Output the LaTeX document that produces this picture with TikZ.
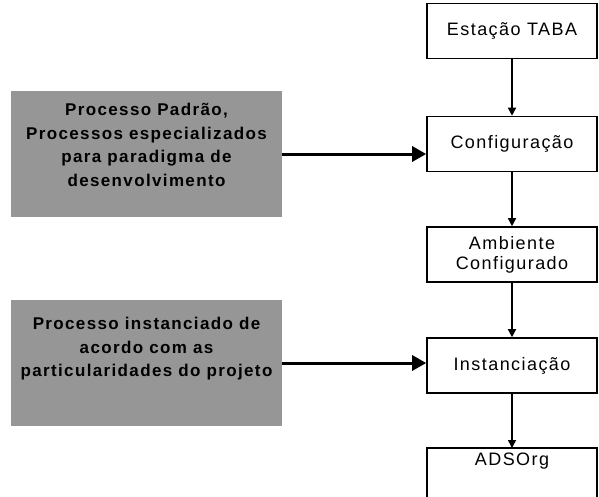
\documentclass[tikz,border=0pt]{standalone}
\usepackage{fontspec}
\setmainfont{Liberation Sans}
\newfontfamily\boxfont[LetterSpace=8]{Liberation Sans}
\newfontfamily\grayfont[LetterSpace=8]{Liberation Sans Bold}
\usetikzlibrary{arrows.meta}
\definecolor{noisegray}{RGB}{150,150,150}
\tikzset{
  flowbox/.style={draw=black, line width=1.6pt, fill=white, minimum width=170pt, minimum height=55pt, inner sep=0pt, font=\boxfont\fontsize{18}{20}\selectfont, align=center},
  graybox/.style={fill=noisegray, draw=none, minimum width=271pt, minimum height=126pt, inner sep=0pt},
  graytext/.style={font=\grayfont\fontsize{17}{23.5}\selectfont, align=center, text=black, inner sep=0pt},
  vflow/.style={line width=1.4pt, -{Triangle[width=8pt,length=8pt]}},
  hflow/.style={line width=3pt, -{Triangle[width=15pt,length=14pt]}}
}
\begin{document}
\begin{tikzpicture}[x=1pt,y=-1pt]
\useasboundingbox (0,0) rectangle (599,496);
\begin{scope}
\clip (0,0) rectangle (599,496);
% right column
\node[flowbox] (b1) at (512,31) {Estação TABA};
\node[flowbox] (b2) at (512,144) {Configuração};
\node[flowbox] (b3) at (512,254.5) {Ambiente\\Configurado};
\node[flowbox] (b4) at (512,365.5) {Instanciação};
\draw[line width=1.6pt, fill=white] (427,448) rectangle (597,520);
\coordinate (b5top) at (512,448);
\node[font=\boxfont\fontsize{18}{20}\selectfont] (b5) at (512,461) {ADSOrg};
% left gray boxes
\node[graybox] (g1) at (146.5,154) {};
\node[graytext] (t1) at ([yshift=9pt]g1.center) {Processo Padrão,\\Processos especializados\\para paradigma de\\desenvolvimento};
\node[graybox] (g2) at (146.5,363) {};
\node[graytext] (t2) at ([yshift=14pt]g2.center) {Processo instanciado de\\acordo com as\\particularidades do projeto};
% connectors
\draw[vflow] (b1.south) -- (b2.north);
\draw[vflow] (b2.south) -- (b3.north);
\draw[vflow] (b3.south) -- (b4.north);
\draw[vflow] (b4.south) -- (b5top);
\draw[hflow] (g1.east) -- (g1.east -| b2.west);
\draw[hflow] (g2.east) -- (g2.east -| b4.west);
\end{scope}
\end{tikzpicture}
\end{document}
